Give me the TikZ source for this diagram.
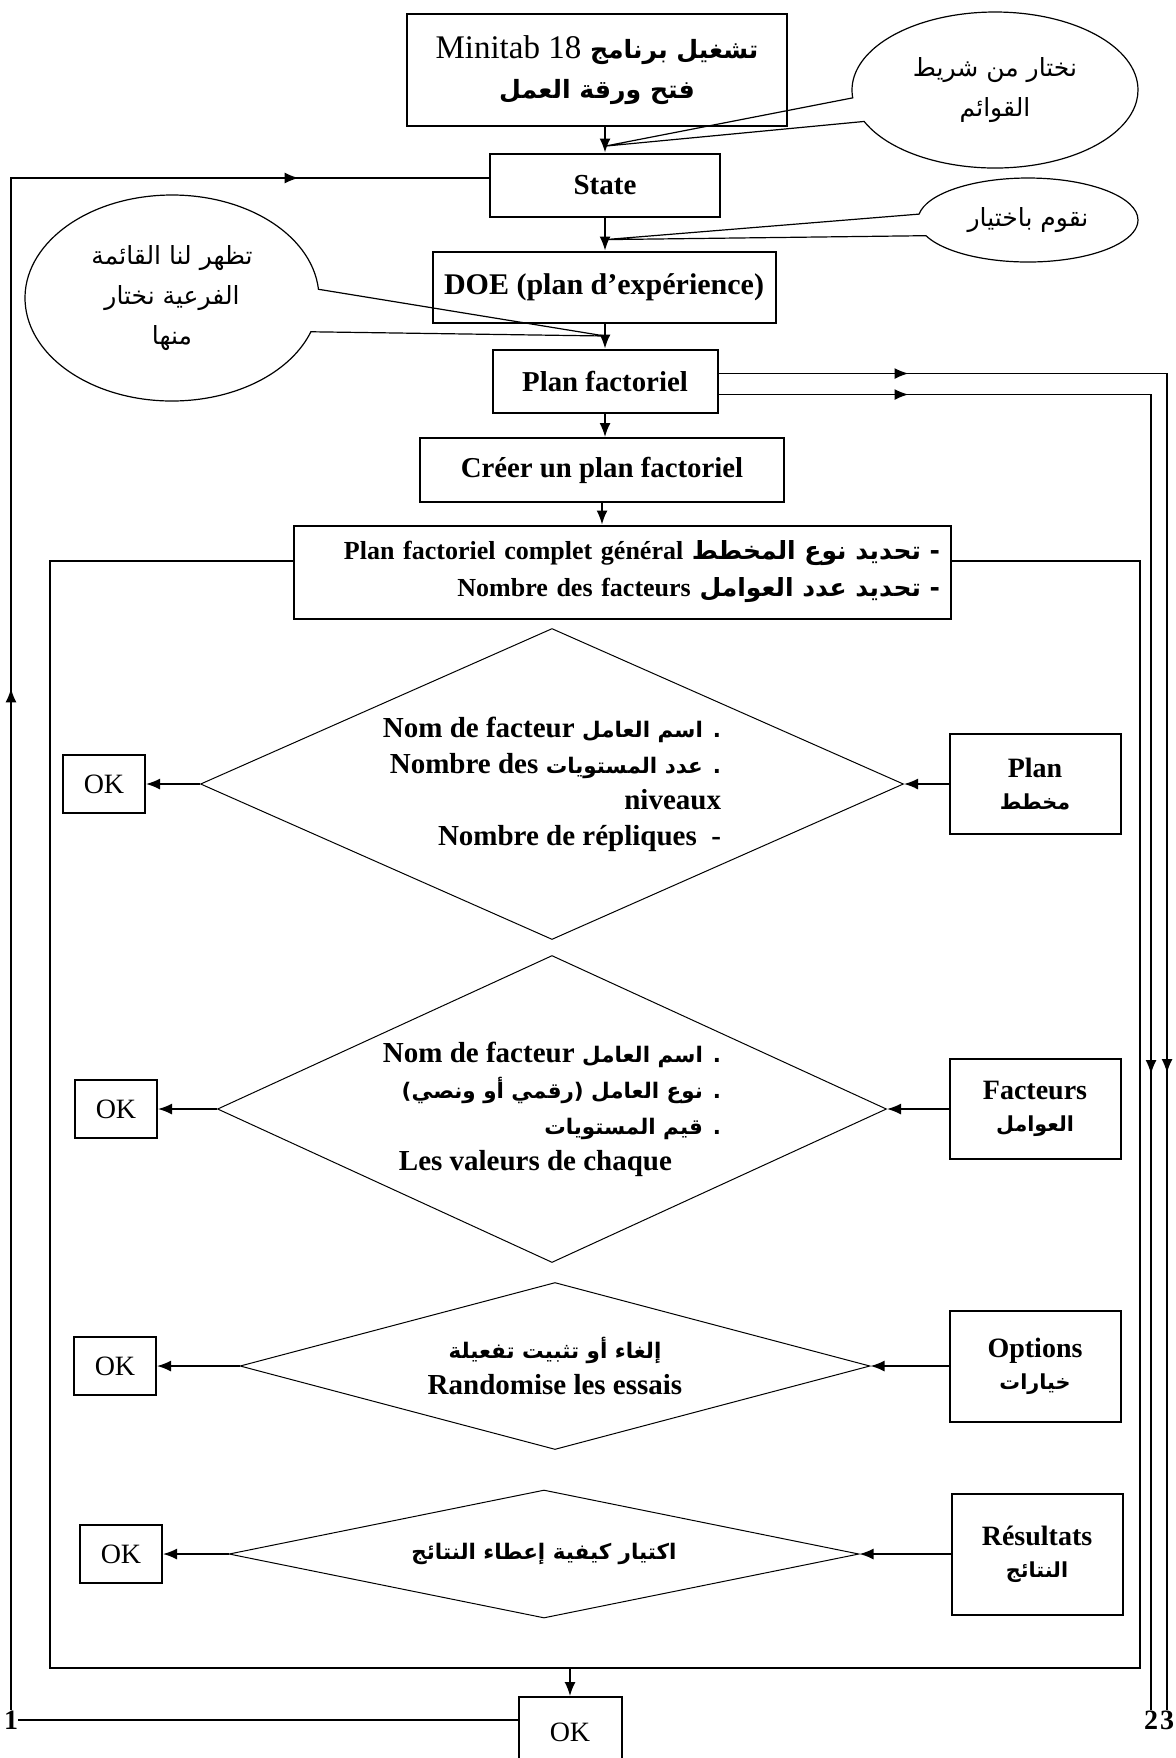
\documentclass[tikz,border=0pt]{standalone}
\usepackage{fontspec}
\setmainfont{Liberation Serif}
\newfontfamily\arabicfont[Script=Arabic]{DejaVu Sans}
\newfontfamily\arabicsmall[Script=Arabic,Scale=0.74]{DejaVu Sans}
\TeXXeTstate=1
\usetikzlibrary{positioning,shapes.geometric,shapes.callouts,arrows.meta,decorations.markings}

\newcommand{\artext}[2][\arabicsmall]{{#1\beginR #2\endR}}
\newcommand{\frtext}[1]{\beginL{\rmfamily #1}\endL}

\tikzset{
    box/.style={draw, line width=1pt, align=center, inner sep=2pt, font=\bfseries\fontsize{14.4}{16}\selectfont},
    sidebox/.style={box, minimum width=85.5pt, minimum height=50pt, font=\bfseries\fontsize{14}{16}\selectfont},
    okbox/.style={draw, line width=1pt, font=\fontsize{14}{16}\selectfont, minimum width=41pt, minimum height=29pt},
    choice/.style={diamond, draw, line width=0.5pt, inner sep=0pt, align=right, font=\bfseries\fontsize{14.5}{18}\selectfont},
    bubble/.style={ellipse callout, draw, line width=0.6pt, inner sep=0pt, align=center, font=\fontsize{12.5}{20}\selectfont},
    flow/.style={line width=0.8pt, -{Latex[length=7pt,width=5.5pt]}},
    link/.style={line width=0.8pt},
    arrowat/.style={postaction={decorate, decoration={markings, mark=at position #1 with {\arrow{Latex[length=7pt,width=5.5pt]}}}}},
}

\begin{document}
\begin{tikzpicture}[x=0.5pt, y=-0.5pt]
    \useasboundingbox (0,0) rectangle (1176,1758);

    % main column
    \node[box, minimum width=190pt, minimum height=56pt, font=\fontsize{16.5}{20}\selectfont] (start) at (597,70)
        {\artext[\arabicsmall\fontsize{17}{20}\selectfont\bfseries]{تشغيل برنامج \frtext{\mdseries\fontsize{16.5}{20}\selectfont Minitab 18}}\\
         \artext[\arabicsmall\fontsize{17}{20}\selectfont\bfseries]{فتح ورقة العمل}};
    \node[box, minimum width=115pt, minimum height=31.5pt, font=\bfseries\fontsize{14.5}{16}\selectfont] (state) at (605,185) {State};
    \node[box, minimum width=171.5pt, minimum height=35.5pt, font=\bfseries\fontsize{15}{16}\selectfont] (doe) at (604,287) {DOE (plan d’expérience)};
    \node[box, minimum width=112.5pt, minimum height=31.5pt] (pf) at (605,381) {Plan factoriel};
    \node[box, minimum width=182pt, minimum height=32pt] (creer) at (602,470) {Créer un plan factoriel};
    \node[box, minimum width=328.5pt, minimum height=46.5pt, text width=318pt, inner xsep=5.25pt, align=right,
          font=\bfseries\fontsize{13}{18.5}\selectfont] (fullplan) at (622,572)
        {\artext[\arabicfont\fontsize{12.5}{18.5}\selectfont]{- تحديد نوع المخطط \frtext{\fontsize{13}{18.5}\selectfont Plan factoriel complet général}}\\
         \artext[\arabicfont\fontsize{12.5}{18.5}\selectfont]{- تحديد عدد العوامل \frtext{\fontsize{13}{18.5}\selectfont Nombre des facteurs}}};

    \draw[flow] (state.north |- start.south) -- coordinate[pos=.75] (tipA) (state.north);
    \draw[flow] (state.south) -- coordinate[pos=.67] (tipB) (state.south |- doe.north);
    \draw[flow] (pf.north |- doe.south) -- coordinate[pos=.5] (tipC) (pf.north);
    \draw[flow] (pf.south) -- (pf.south |- creer.north);
    \draw[flow] (creer.south) -- (creer.south |- fullplan.north);

    % comments
    \node[bubble, minimum width=143pt, minimum height=78pt, callout absolute pointer={(tipA)}, callout pointer arc=18] (menubar) at (995,90)
        {\artext[\arabicfont]{نختار من شريط}\\ \artext[\arabicfont]{القوائم}};
    \node[bubble, minimum width=110pt, minimum height=42pt, callout absolute pointer={(tipB)}, callout pointer arc=30] (choose) at (1028,220)
        {\artext[\arabicfont]{نقوم باختيار}};
    \node[bubble, minimum width=147pt, minimum height=103pt, callout absolute pointer={(tipC)}, callout pointer arc=24] (submenu) at (172,298)
        {\artext[\arabicfont]{تظهر لنا القائمة}\\ \artext[\arabicfont]{الفرعية نختار}\\ \artext[\arabicfont]{منها}};

    % dialog steps
    \node[choice, aspect=2.26, minimum width=351.5pt, minimum height=155.5pt] (setplan) at (552,784)
        {\artext{. اسم العامل \frtext{Nom de facteur}}\\
         \artext{. عدد المستويات \frtext{Nombre des}}\\
         niveaux\\
         Nombre de répliques\ \ -};
    \node[sidebox] (planbox) at (1035,784) {Plan\\ \artext{مخطط}};
    \node[okbox] (ok1) at (104,784) {OK};

    \node[choice, aspect=2.18, minimum width=334.5pt, minimum height=153.5pt] (setfactors) at (552,1109)
        {\artext{. اسم العامل \frtext{Nom de facteur}}\\
         \artext{. نوع العامل (رقمي أو ونصي)}\hspace*{7.5pt}\\
         \artext{. قيم المستويات}\\
         Les valeurs de chaque\hspace*{24.5pt}};
    \node[sidebox] (factbox) at (1035,1109) {Facteurs\\ \artext{العوامل}};
    \node[okbox] (ok2) at (116,1109) {OK};

    \node[choice, aspect=3.77, minimum width=315pt, minimum height=83.5pt, align=center] (setoptions) at (555,1366)
        {\artext{إلغاء أو تثبيت تفعيلة}\\ Randomise les essais};
    \node[sidebox, minimum height=55.5pt] (optbox) at (1035,1366) {Options\\ \artext{خيارات}};
    \node[okbox] (ok3) at (115,1366) {OK};

    \node[choice, aspect=4.9, minimum width=315pt, minimum height=64pt, align=center] (setresults) at (544,1554)
        {\artext{اكتيار كيفية إعطاء النتائج}};
    \node[sidebox, minimum height=60.5pt] (resbox) at (1037,1554) {Résultats\\ \artext{النتائج}};
    \node[okbox] (ok4) at (121,1554) {OK};

    \foreach \side/\step/\ok in {planbox/setplan/ok1, factbox/setfactors/ok2, optbox/setoptions/ok3, resbox/setresults/ok4} {
        \draw[flow] (\side.west) -- (\step.east);
        \draw[flow] (\step.west) -- (\ok.east);
    }

    % frame round the dialog
    \coordinate (framebl) at (50,1668);
    \coordinate (framebr) at (1140,1668);
    \draw[link] ([yshift=5.5pt]fullplan.west) -| (framebl) -- (framebr) |- ([yshift=5.5pt]fullplan.east);

    \node[okbox, minimum width=51.5pt, minimum height=35pt] (okend) at (570,1732) {OK};
    \draw[flow] (okend.north |- framebl) -- (okend.north);

    % loop back
    \node[font=\bfseries\fontsize{14}{16}\selectfont, inner sep=0pt] (one) at (11,1720) {1};
    \node[font=\bfseries\fontsize{14}{16}\selectfont, inner sep=0pt] (two) at (1151,1720) {2};
    \node[font=\bfseries\fontsize{14}{16}\selectfont, inner sep=0pt] (three) at (1167,1720) {3};

    \draw[link] (one.east) -- (one.east -| okend.west);
    \draw[link, arrowat=511pt, arrowat=910pt] (one.north) |- ([yshift=3.5pt]state.west);
    \draw[link, arrowat=95pt, arrowat=574pt] ([yshift=3.75pt]pf.east) -| (three.north);
    \draw[link, arrowat=95pt, arrowat=556pt] ([yshift=-6.75pt]pf.east) -| (two.north);
\end{tikzpicture}
\end{document}
